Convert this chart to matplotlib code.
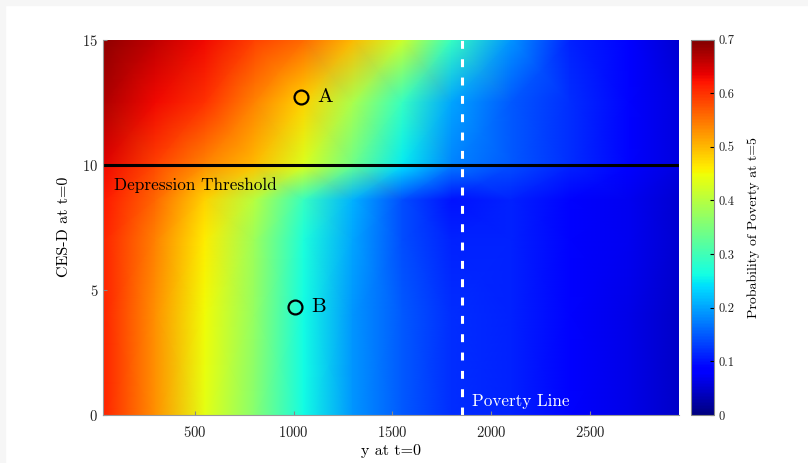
import matplotlib
matplotlib.use("Agg")
import matplotlib.pyplot as plt
import numpy as np

# grid (x = income y at t=0, y = CES-D at t=0)
x_grid = [35, 300, 550, 800, 1050, 1300, 1550, 1800, 2100, 2400, 2700, 2950]
y_grid = [0, 4, 7, 8.6, 9.95, 10.05, 12.5, 15]

# probability of poverty at t=5, one row per y_grid value
row_y0 = [0.61, 0.53, 0.44, 0.36, 0.26, 0.19, 0.15, 0.12, 0.11, 0.09, 0.065, 0.045]
row_y4 = [0.61, 0.53, 0.45, 0.37, 0.26, 0.19, 0.15, 0.12, 0.11, 0.09, 0.065, 0.045]
row_y7 = [0.61, 0.54, 0.46, 0.38, 0.27, 0.20, 0.14, 0.11, 0.11, 0.09, 0.07, 0.05]
row_y86 = [0.62, 0.56, 0.48, 0.40, 0.29, 0.21, 0.14, 0.10, 0.11, 0.09, 0.07, 0.05]
row_y995 = [0.63, 0.58, 0.53, 0.49, 0.43, 0.33, 0.24, 0.17, 0.14, 0.11, 0.08, 0.06]
row_y1005 = [0.64, 0.59, 0.54, 0.50, 0.43, 0.34, 0.25, 0.18, 0.15, 0.12, 0.09, 0.06]
row_y125 = [0.67, 0.63, 0.60, 0.54, 0.48, 0.39, 0.29, 0.20, 0.15, 0.12, 0.09, 0.06]
row_y15 = [0.69, 0.66, 0.63, 0.59, 0.56, 0.50, 0.42, 0.29, 0.19, 0.11, 0.08, 0.05]

poverty_line = 1850
depression_threshold = 10
point_names = ["A", "B"]
point_x = [1035, 1005]
point_y = [12.7, 4.3]

x_ticks = [500, 1000, 1500, 2000, 2500]
y_ticks = [0, 5, 10, 15]
cbar_ticks = [0, 0.1, 0.2, 0.3, 0.4, 0.5, 0.6, 0.7]
cbar_labels = ["0", "0.1", "0.2", "0.3", "0.4", "0.5", "0.6", "0.7"]

plt.rcParams['font.family'] = 'serif'
plt.rcParams['font.serif'] = ['cmr10', 'DejaVu Serif']
plt.rcParams['axes.formatter.use_mathtext'] = True

prob = np.array([row_y0, row_y4, row_y7, row_y86, row_y995, row_y1005, row_y125, row_y15])
X, Y = np.meshgrid(x_grid, y_grid)

fig = plt.figure(figsize=(8.08, 4.63), dpi=100)
fig.patch.set_facecolor('white')
# light grey page edge along top and left
fig.patches.append(plt.Rectangle((0, 1 - 5 / 463), 1, 5 / 463, transform=fig.transFigure,
                                 color='#f6f6f6', zorder=-1))
fig.patches.append(plt.Rectangle((0, 0), 5 / 808, 1, transform=fig.transFigure,
                                 color='#f6f6f6', zorder=-1))

ax = fig.add_axes([103 / 808, 48 / 463, 576 / 808, 375.5 / 463])
mesh = ax.pcolormesh(X, Y, prob, shading='gouraud', cmap='jet', vmin=0, vmax=0.7)
ax.set_xlim(x_grid[0], x_grid[-1])
ax.set_ylim(0, 15)

ax.axhline(depression_threshold, color='black', lw=2.2)
ax.axvline(poverty_line, color='white', lw=2.2, linestyle=(0, (2.6, 3.4)))

ax.plot(point_x, point_y, 'o', mfc='none', mec='black', ms=10, mew=1.6)
for name, px, py in zip(point_names, point_x, point_y):
    ax.text(px + 85, py, name, fontsize=15, va='center', ha='left')

ax.text(90, 9.2, "Depression Threshold", fontsize=12.4, va='center', ha='left')
ax.text(poverty_line + 50, 0.55, "Poverty Line", fontsize=12.3, color='white', va='center', ha='left')

ax.set_xticks(x_ticks)
ax.set_yticks(y_ticks)
ax.tick_params(direction='in', length=3, color='#888888', labelsize=10.5, labelcolor='#222222')
ax.tick_params(axis='x', pad=7)
for side in ['top', 'right']:
    ax.spines[side].set_visible(False)
for side in ['left', 'bottom']:
    ax.spines[side].set_color('#999999')
    ax.spines[side].set_linewidth(0.8)
ax.set_xlabel("y at t=0", fontsize=11.5, labelpad=3)
ax.set_ylabel("CES-D at t=0", fontsize=11.5, labelpad=8)

cax = fig.add_axes([691 / 808, 48 / 463, 23 / 808, 375.5 / 463])
cb = fig.colorbar(mesh, cax=cax, ticks=cbar_ticks)
cb.set_ticklabels(cbar_labels)
cb.outline.set_edgecolor('#888888')
cb.outline.set_linewidth(0.8)
cax.tick_params(direction='in', length=3, labelsize=9, labelcolor='#222222')
cb.set_label("Probability of Poverty at t=5", fontsize=10, labelpad=9)

fig.savefig("out.png", dpi=100)
